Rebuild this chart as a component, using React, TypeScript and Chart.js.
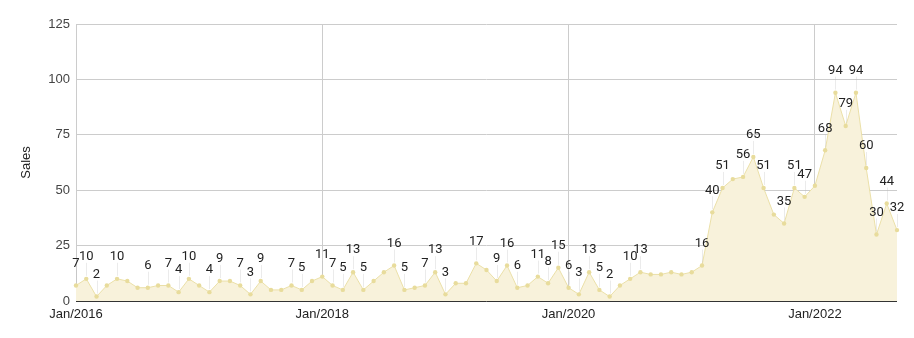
import React, { useEffect, useRef } from "react";
import { Chart, registerables } from "chart.js";

Chart.register(...registerables);

// Monthly sales, Jan/2016 .. Sep/2022
const sales: number[] = [
  7, 10, 2, 7, 10, 9, 6, 6, 7, 7, 4, 10,
  7, 4, 9, 9, 7, 3, 9, 5, 5, 7, 5, 9,
  11, 7, 5, 13, 5, 9, 13, 16, 5, 6, 7, 13,
  3, 8, 8, 17, 14, 9, 16, 6, 7, 11, 8, 15,
  6, 3, 13, 5, 2, 7, 10, 13, 12, 12, 13, 12,
  13, 16, 40, 51, 55, 56, 65, 51, 39, 35, 51, 47,
  52, 68, 94, 79, 94, 60, 30, 44, 32,
];

// Which points carry an annotation (1 = shown)
const annotated: number[] = [
  1, 1, 1, 0, 1, 0, 0, 1, 0, 1, 1, 1,
  0, 1, 1, 0, 1, 1, 1, 0, 0, 1, 1, 0,
  1, 1, 1, 1, 1, 0, 0, 1, 1, 0, 1, 1,
  1, 0, 0, 1, 0, 1, 1, 1, 0, 1, 1, 1,
  1, 1, 1, 1, 1, 0, 1, 1, 0, 0, 0, 0,
  0, 1, 1, 1, 0, 1, 1, 1, 0, 1, 1, 1,
  0, 1, 1, 1, 1, 1, 1, 1, 1,
];

const xTickValues: number[] = [0, 24, 48, 72];
const xTickLabels: string[] = ["Jan/2016", "Jan/2018", "Jan/2020", "Jan/2022"];
const yTicks: number[] = [0, 25, 50, 75, 100, 125];

const AXIS_FONT = "Arial, 'Liberation Sans', sans-serif";
const LABEL_FONT = "Roboto, Arial, sans-serif";

const annotationPlugin = {
  id: "annotations",
  afterDatasetsDraw(chart: any) {
    const { ctx, chartArea } = chart;
    const meta = chart.getDatasetMeta(0);
    ctx.save();
    // baseline
    const yScale = chart.scales.y;
    const y0 = Math.round(yScale.getPixelForValue(0)) + 0.5;
    ctx.strokeStyle = "#333333";
    ctx.lineWidth = 1;
    ctx.beginPath();
    ctx.moveTo(chartArea.left, y0);
    ctx.lineTo(chartArea.right, y0);
    ctx.stroke();

    ctx.font = `13px ${LABEL_FONT}`;
    ctx.textAlign = "center";
    ctx.textBaseline = "middle";
    meta.data.forEach((pt: any, i: number) => {
      if (!annotated[i]) return;
      const x = pt.x;
      const y = pt.y;
      ctx.strokeStyle = "rgba(190,190,190,0.3)";
      ctx.beginPath();
      ctx.moveTo(Math.round(x) + 0.5, y - 3);
      ctx.lineTo(Math.round(x) + 0.5, y - 16);
      ctx.stroke();
      ctx.fillStyle = "#222222";
      ctx.fillText(String(sales[i]), x, y - 22);
    });
    ctx.restore();
  },
};

export default function App() {
  const ref = useRef<HTMLCanvasElement | null>(null);

  useEffect(() => {
    if (!ref.current) return;
    const chart = new Chart(ref.current, {
      type: "line",
      data: {
        datasets: [
          {
            label: "Sales",
            data: sales.map((v, i) => ({ x: i, y: v })),
            borderColor: "#ebe0a8",
            borderWidth: 1,
            backgroundColor: "#f8f2db",
            fill: "origin",
            tension: 0,
            pointRadius: 2.2,
            pointBackgroundColor: "#e8dc9c",
            pointBorderWidth: 0,
            clip: false as any,
          },
        ],
      },
      options: {
        responsive: false,
        animation: false,
        layout: { padding: { left: 0, right: 17, top: 24, bottom: 0 } },
        plugins: {
          legend: { display: false },
          tooltip: { enabled: false },
        },
        scales: {
          x: {
            type: "linear",
            min: 0,
            max: sales.length - 1,
            afterBuildTicks: (s: any) => {
              s.ticks = xTickValues.map((v) => ({ value: v }));
            },
            afterFit: (s: any) => {
              s.height = 37;
            },
            ticks: {
              autoSkip: false,
              maxRotation: 0,
              padding: 6,
              color: "#222222",
              font: { family: AXIS_FONT, size: 13 },
              callback: (v: any) => {
                const idx = xTickValues.indexOf(Number(v));
                return idx >= 0 ? xTickLabels[idx] : "";
              },
            },
            grid: { color: "#cccccc", drawTicks: false },
            border: { display: false },
          },
          y: {
            min: 0,
            max: 125,
            afterBuildTicks: (s: any) => {
              s.ticks = yTicks.map((v) => ({ value: v }));
            },
            afterFit: (s: any) => {
              s.width = 76;
            },
            ticks: {
              padding: 6,
              color: "#444444",
              font: { family: AXIS_FONT, size: 13 },
            },
            grid: { color: "#cccccc", drawTicks: false },
            border: { display: false },
            title: {
              display: true,
              text: "Sales",
              color: "#222222",
              font: { family: AXIS_FONT, size: 13 },
              padding: { top: 19, bottom: 0 },
            },
          },
        },
      },
      plugins: [annotationPlugin],
    });
    return () => chart.destroy();
  }, []);

  return (
    <div style={{ position: "absolute", left: 0, top: 0, width: 914, height: 338 }}>
      <canvas ref={ref} width={914} height={338} style={{ display: "block" }} />
    </div>
  );
}
